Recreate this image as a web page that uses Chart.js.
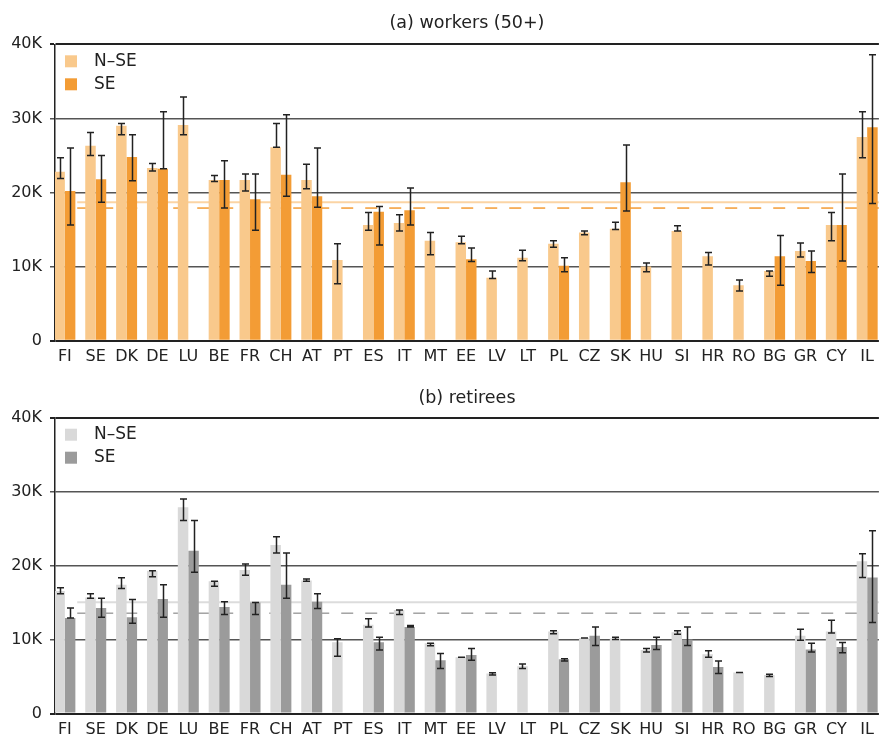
<!DOCTYPE html>
<html>
<head>
<meta charset="utf-8">
<script src="https://cdn.jsdelivr.net/npm/chart.js@4.4.1/dist/chart.umd.min.js"></script>
<style>
  html, body { margin: 0; padding: 0; background: #fff; overflow: hidden; }
  #wrapA { position: absolute; left: 0; top: 0; width: 881px; height: 372px; }
  #wrapB { position: absolute; left: 0; top: 372px; width: 881px; height: 362px; }
</style>
</head>
<body>
<div id="wrapA"><canvas id="chartA"></canvas></div>
<div id="wrapB"><canvas id="chartB"></canvas></div>
<script>
"use strict";

let countries = ["FI", "SE", "DK", "DE", "LU", "BE", "FR", "CH", "AT", "PT", "ES", "IT", "MT", "EE", "LV", "LT", "PL", "CZ", "SK", "HU", "SI", "HR", "RO", "BG", "GR", "CY", "IL"];
let yTicks = [0, 10000, 20000, 30000, 40000];

// (a) workers (50+), values in thousands
let workersNse = [22.8, 26.3, 29.0, 23.3, 29.1, 21.7, 21.7, 26.1, 21.7, 10.9, 15.6, 15.9, 13.5, 13.3, 8.5, 11.2, 13.1, 14.6, 15.1, 10.0, 14.8, 11.4, 7.5, 9.4, 12.1, 15.6, 27.5];
let workersNseLow = [21.9, 25.0, 27.8, 22.9, 27.8, 21.5, 20.2, 26.1, 20.5, 7.7, 14.9, 14.8, 11.6, 13.1, 8.4, 10.8, 12.6, 14.3, 15.0, 9.3, 14.8, 10.2, 6.7, 8.7, 11.3, 13.5, 24.7];
let workersNseHigh = [24.7, 28.1, 29.3, 23.9, 32.9, 22.3, 22.5, 29.3, 23.8, 13.1, 17.3, 17.0, 14.6, 14.1, 9.4, 12.2, 13.5, 14.8, 16.0, 10.5, 15.5, 11.9, 8.2, 9.4, 13.2, 17.3, 30.9];
let workersSe = [20.2, 21.8, 24.8, 23.2, null, 21.7, 19.1, 22.4, 19.5, null, 17.4, 17.6, null, 11.0, null, null, 10.1, null, 21.4, null, null, null, null, 11.4, 10.75, 15.6, 28.8];
let workersSeLow = [15.6, 18.7, 21.6, 23.2, null, 17.9, 14.9, 19.5, 18.0, null, 12.9, 15.6, null, 10.7, null, null, 9.3, null, 17.5, null, null, null, null, 7.5, 9.2, 10.75, 18.5];
let workersSeHigh = [26.0, 25.0, 27.8, 30.9, null, 24.3, 22.5, 30.5, 26.0, null, 18.1, 20.6, null, 12.5, null, null, 11.2, null, 26.4, null, null, null, null, 14.2, 12.1, 22.5, 38.6];
let workersMeanNse = 18.7;
let workersMeanSe = 17.9;

// (b) retirees, values in thousands
let retireesNse = [16.55, 15.7, 17.4, 19.3, 27.9, 17.9, 19.4, 22.8, 18.0, 9.65, 12.0, 14.0, 9.5, 7.6, 5.4, 6.4, 11.1, 10.2, 10.15, 8.6, 11.0, 8.0, 5.55, 5.2, 10.5, 11.1, 20.6];
let retireesNseLow = [16.2, 15.6, 16.9, 18.5, 26.1, 17.2, 18.7, 21.7, 17.9, 7.75, 11.7, 13.4, 9.15, 7.6, 5.2, 6.1, 10.8, 10.2, 10.0, 8.3, 10.7, 7.6, 5.55, 5.0, 9.9, 10.9, 18.4];
let retireesNseHigh = [17.0, 16.2, 18.35, 19.3, 29.0, 17.9, 20.2, 23.9, 18.2, 10.1, 12.8, 14.0, 9.5, 7.6, 5.5, 6.7, 11.2, 10.2, 10.3, 8.8, 11.2, 8.5, 5.55, 5.3, 11.4, 12.6, 21.6];
let retireesSe = [12.9, 14.25, 13.0, 15.5, 22.0, 14.4, 15.0, 17.4, 15.1, null, 9.65, 11.7, 7.2, 7.9, null, null, 7.35, 10.5, null, 9.25, 10.0, 6.3, null, null, 8.65, 9.0, 18.4];
let retireesSeLow = [12.9, 13.0, 12.2, 13.0, 19.1, 13.4, 13.4, 15.6, 14.2, null, 8.6, 11.7, 6.1, 7.2, null, null, 7.1, 9.2, null, 8.65, 9.2, 5.4, null, null, 8.3, 8.2, 12.3];
let retireesSeHigh = [14.25, 15.6, 15.4, 17.4, 26.1, 15.1, 15.0, 21.7, 16.2, null, 10.3, 11.9, 8.1, 8.8, null, null, 7.4, 11.7, null, 10.3, 11.7, 7.1, null, null, 9.5, 9.6, 24.7];
let retireesMeanNse = 15.05;
let retireesMeanSe = 13.56;

let fontFamily = "'DejaVu Sans', sans-serif";
let textColor = "#222";
let xMin = -0.32;
let xMax = 26.38;
let meanLineStart = 0.4;

function toPoints(values) {
  return values.map((v, i) => ({ x: i, y: v === null ? null : v * 1000 }));
}

function toK(values) {
  return values.map((v) => (v === null ? null : v * 1000));
}

let errorBarPlugin = {
  id: "errorBars",
  afterDatasetsDraw(chart) {
    let ctx = chart.ctx;
    let yScale = chart.scales.y;
    ctx.save();
    ctx.strokeStyle = "#222";
    ctx.lineWidth = 1.5;
    chart.data.datasets.forEach((ds, di) => {
      if (!ds.errLow) return;
      let meta = chart.getDatasetMeta(di);
      meta.data.forEach((bar, i) => {
        let lo = ds.errLow[i];
        let hi = ds.errHigh[i];
        if (lo === null || hi === null) return;
        let yLo = yScale.getPixelForValue(lo);
        let yHi = yScale.getPixelForValue(hi);
        let x = Math.round(bar.x) + 0.5;
        ctx.beginPath();
        ctx.moveTo(x, yLo);
        ctx.lineTo(x, yHi);
        ctx.moveTo(x - 3.5, yLo);
        ctx.lineTo(x + 3.5, yLo);
        ctx.moveTo(x - 3.5, yHi);
        ctx.lineTo(x + 3.5, yHi);
        ctx.stroke();
      });
    });
    ctx.restore();
  },
};

// legend inside the plot, top left, plus the panel title
let panelTextPlugin = {
  id: "panelText",
  afterDraw(chart, args, opts) {
    let ctx = chart.ctx;
    let area = chart.chartArea;
    ctx.save();
    ctx.font = "17.5px " + fontFamily;
    ctx.fillStyle = textColor;
    ctx.textAlign = "center";
    ctx.textBaseline = "middle";
    ctx.fillText(opts.title, (area.left + area.right) / 2, opts.titleY);
    ctx.font = "17px " + fontFamily;
    ctx.textAlign = "left";
    chart.data.datasets.slice(0, 2).forEach((ds, i) => {
      let y = area.top + 17 + i * 23;
      ctx.fillStyle = ds.backgroundColor;
      ctx.fillRect(area.left + 10, y - 6, 12, 12);
      ctx.fillStyle = textColor;
      ctx.fillText(ds.label, area.left + 39, y);
    });
    ctx.restore();
  },
};

function makeChart(canvasId, title, titleY, topPad, xHeight, nse, nseLow, nseHigh, se, seLow, seHigh, meanNse, meanSe, colors) {
  let ctx = document.getElementById(canvasId).getContext("2d");
  return new Chart(ctx, {
    type: "bar",
    data: {
      datasets: [
        {
          label: "N\u2013SE",
          data: toPoints(nse),
          backgroundColor: colors[0],
          errLow: toK(nseLow),
          errHigh: toK(nseHigh),
          order: 1,
        },
        {
          label: "SE",
          data: toPoints(se),
          backgroundColor: colors[1],
          errLow: toK(seLow),
          errHigh: toK(seHigh),
          order: 1,
        },
        {
          type: "line",
          label: "mean N-SE",
          data: [{ x: meanLineStart, y: meanNse * 1000 }, { x: xMax, y: meanNse * 1000 }],
          borderColor: colors[2],
          borderWidth: 2,
          pointRadius: 0,
          order: 3,
        },
        {
          type: "line",
          label: "mean SE",
          data: [{ x: meanLineStart, y: meanSe * 1000 }, { x: xMax, y: meanSe * 1000 }],
          borderColor: colors[3],
          borderWidth: 1.5,
          borderDash: [12, 12],
          pointRadius: 0,
          order: 3,
        },
      ],
    },
    options: {
      responsive: true,
      maintainAspectRatio: false,
      animation: false,
      devicePixelRatio: 1,
      layout: { padding: { top: topPad, left: 0, right: 0, bottom: 0 } },
      datasets: {
        bar: { categoryPercentage: 0.68, barPercentage: 1.0 },
      },
      scales: {
        x: {
          type: "linear",
          offset: false,
          min: xMin,
          max: xMax,
          grid: { display: false, drawTicks: false, offset: false },
          border: { display: false },
          afterBuildTicks: (scale) => {
            scale.ticks = countries.map((c, i) => ({ value: i }));
          },
          afterFit: (scale) => {
            scale.height = xHeight;
          },
          ticks: {
            autoSkip: false,
            maxRotation: 0,
            padding: 7,
            color: textColor,
            font: { family: fontFamily, size: 16 },
            callback: (v) => countries[v],
          },
        },
        y: {
          min: 0,
          max: 40000,
          afterBuildTicks: (scale) => {
            scale.ticks = yTicks.map((v) => ({ value: v }));
          },
          afterFit: (scale) => {
            scale.width = 55;
          },
          border: { display: true, color: "#222", width: 1.5 },
          grid: {
            color: (c) => (c.tick.value === 0 || c.tick.value === 40000 ? "#222" : "#555"),
            lineWidth: (c) => (c.tick.value === 0 || c.tick.value === 40000 ? 2 : 1.5),
            tickLength: 5,
          },
          ticks: {
            padding: 8,
            color: textColor,
            font: { family: fontFamily, size: 16 },
            callback: (v) => (v === 0 ? "0" : v / 1000 + "K"),
          },
        },
      },
      plugins: {
        legend: { display: false },
        tooltip: { enabled: false },
        title: { display: false },
        panelText: { title: title, titleY: titleY },
      },
    },
    plugins: [errorBarPlugin, panelTextPlugin],
  });
}

makeChart("chartA", "(a) workers (50+)", 23, 44.3, 31.3,
  workersNse, workersNseLow, workersNseHigh, workersSe, workersSeLow, workersSeHigh,
  workersMeanNse, workersMeanSe, ["#f9c98c", "#f39c35", "#fbd4a4", "#f39c35"]);

makeChart("chartB", "(b) retirees", 26, 45.7, 20.5,
  retireesNse, retireesNseLow, retireesNseHigh, retireesSe, retireesSeLow, retireesSeHigh,
  retireesMeanNse, retireesMeanSe, ["#d9d9d9", "#9b9b9b", "#dcdcdc", "#a3a3a3"]);
</script>
</body>
</html>
